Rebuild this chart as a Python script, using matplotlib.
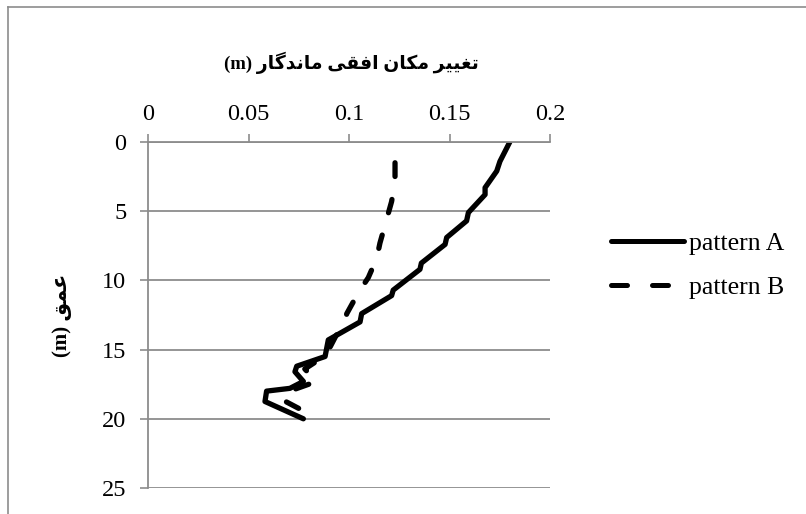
import matplotlib
matplotlib.use("Agg")
import matplotlib.pyplot as plt
from matplotlib.lines import Line2D

# solid curve (pattern A): displacement (m) vs depth (m)
disp_a = [0.180, 0.1751, 0.1735, 0.1677, 0.1677, 0.1594, 0.1585, 0.1486, 0.1478,
          0.1360, 0.1353, 0.1220, 0.1212, 0.1063, 0.1055, 0.0897, 0.0889, 0.0881,
          0.0740, 0.0731, 0.0773, 0.0706, 0.0590, 0.0582, 0.0773]
depth_a = [0, 1.4, 2.1, 3.3, 3.8, 5.1, 5.7, 6.9, 7.4,
           8.75, 9.2, 10.7, 11.1, 12.4, 13.0, 14.3, 14.9, 15.5,
           16.2, 16.6, 17.3, 17.8, 18.0, 18.75, 20.0]

# dashed curve (pattern B)
disp_b = [0.1229, 0.1229, 0.1212, 0.1187, 0.1154, 0.1138, 0.1096, 0.1046, 0.0989,
          0.0972, 0.0935, 0.0885, 0.0780, 0.0839, 0.0723, 0.0665, 0.0848]
depth_b = [1.5, 2.8, 4.3, 5.6, 7.3, 8.4, 9.8, 10.9, 12.4,
           13.3, 14.0, 15.4, 16.4, 17.3, 17.9, 18.6, 20.0]

labels = ["pattern A", "pattern B"]
xticks = [0, 0.05, 0.1, 0.15, 0.2]
xtick_labels = ["0", "0.05", "0.1", "0.15", "0.2"]
yticks = [0, 5, 10, 15, 20, 25]

# Persian text pre-shaped (presentation forms, visual order) since matplotlib does no shaping
title_txt = ("(m) \uFEAD\uFE8E\uFB94\uFEAA\uFEE7\uFE8E\uFEE3 \uFBFD\uFED8\uFED3\uFE8D "
             "\uFEE5\uFE8E\uFB91\uFEE3 \uFEAE\uFBFF\uFBFF\uFED0\uFE97")
ylabel_txt = "(m) \uFED6\uFEE4\uFECB"

fam = ["Liberation Serif", "DejaVu Sans"]
plt.rcParams["font.family"] = fam

W, H = 806, 514
fig = plt.figure(figsize=(W / 100, H / 100), dpi=100)
ax = fig.add_axes([148 / W, 1 - 488 / H, (550 - 148) / W, (488 - 142) / H])

grey = "#8c8c8c"
la, = ax.plot(disp_a, depth_a, color="black", lw=3.8, solid_capstyle="round",
              solid_joinstyle="round")
lb, = ax.plot(disp_b, depth_b, color="black", lw=3.8, dashes=(2.6, 4.4),
              dash_capstyle="round", dash_joinstyle="round")

ax.set_xlim(0, 0.2)
ax.set_ylim(25, 0)
ax.set_xticks(xticks)
ax.set_xticklabels(xtick_labels)
ax.set_yticks(yticks)
ax.xaxis.tick_top()
ax.xaxis.set_label_position("top")
ax.tick_params(axis="both", colors=grey, labelcolor="black", labelsize=17.5,
               length=5.5, width=1.2, direction="out")
ax.tick_params(axis="x", pad=7)
ax.tick_params(axis="y", pad=10)
ax.yaxis.grid(True, color=grey, lw=1.3)
ax.set_axisbelow(True)
for s in ["right", "bottom"]:
    ax.spines[s].set_visible(False)
for s in ["top", "left"]:
    ax.spines[s].set_color(grey)
    ax.spines[s].set_linewidth(1.3)

fig.text(351 / W, 1 - 63 / H, title_txt, ha="center", va="center",
         fontsize=13.5, fontweight="bold", family=fam)
fig.text(62 / W, 1 - 315 / H, ylabel_txt, ha="center", va="center", rotation=90,
         fontsize=15, fontweight="bold", family=fam)

leg = fig.legend([la, lb], labels, loc="upper left", bbox_to_anchor=(611 / W, 1 - 232 / H),
                 frameon=False, fontsize=18.5, handlelength=2.85, handletextpad=0.2,
                 labelspacing=0.8, borderpad=0, borderaxespad=0)
hl = leg.get_lines()
for h in hl:
    h.set_linewidth(3.6)
hl[1].set_dashes((3.2, 5.0))

# outer chart border (partly cropped in the reference)
fig.add_artist(Line2D([8 / W, 8 / W], [0, 1 - 7 / H], color=grey, lw=1.2))
fig.add_artist(Line2D([8 / W, 1], [1 - 7 / H, 1 - 7 / H], color=grey, lw=1.2))

fig.savefig("out.png", dpi=100)
